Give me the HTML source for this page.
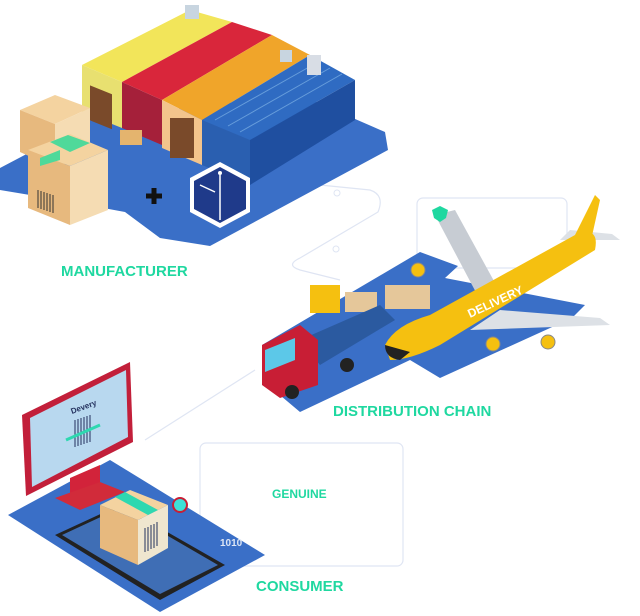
<!DOCTYPE html>
<html><head><meta charset="utf-8"><style>
html,body{margin:0;padding:0;background:#fff;}
svg{display:block;}
text{font-family:"Liberation Sans",sans-serif;font-weight:bold;}
</style></head><body>
<svg width="640" height="616" viewBox="0 0 640 616" xmlns="http://www.w3.org/2000/svg">
<!-- connector lines -->
<g fill="none" stroke="#dfe5f3" stroke-width="1.2">
<path d="M320 185 L370 190 Q385 195 378 212 L300 258 Q285 265 300 270 L340 280"/>
<path d="M255 370 L145 440"/>
<rect x="200" y="443" width="203" height="123" rx="6"/>
<rect x="417" y="198" width="150" height="70" rx="6"/>
</g>
<circle cx="337" cy="193" r="3" fill="#fff" stroke="#dfe5f3"/>
<circle cx="336" cy="249" r="3" fill="#fff" stroke="#dfe5f3"/>

<!-- manufacturer platform -->
<path d="M0 168 L95 118 L300 95 L385 132 L388 150 L210 246 L160 238 L125 212 L60 200 L0 190 Z" fill="#3a6fc7"/>
<!-- yellow building -->
<path d="M82 65 L190 10 L232 22 L122 82 Z" fill="#f2e55a"/>
<path d="M82 65 L122 82 L122 128 L82 112 Z" fill="#e8e070"/>
<rect x="90" y="85" width="22" height="35" fill="#7a4a2a" transform="skewY(22) translate(0,-36)"/>
<!-- red -->
<path d="M122 82 L232 22 L272 35 L162 100 Z" fill="#d9263b"/>
<path d="M122 82 L162 100 L162 145 L122 128 Z" fill="#a5203a"/>
<!-- orange -->
<path d="M162 100 L272 35 L310 55 L202 120 Z" fill="#f0a52a"/>
<path d="M162 100 L202 120 L202 165 L162 148 Z" fill="#f3c48c"/>
<rect x="170" y="118" width="24" height="40" fill="#7a4a2a"/>
<!-- blue -->
<path d="M202 120 L310 55 L355 80 L250 140 Z" fill="#2f6bc2"/>
<path d="M250 140 L355 80 L355 120 L250 185 Z" fill="#1f4fa0"/>
<path d="M202 120 L250 140 L250 185 L202 165 Z" fill="#2a5fb0"/>
<g stroke="#7fb3e6" stroke-width="1" opacity=".7">
<path d="M215 120 L318 62 M228 126 L330 68 M240 132 L342 74"/>
</g>
<rect x="185" y="5" width="14" height="14" fill="#c8d5e0"/>
<rect x="280" y="50" width="12" height="12" fill="#c8d5e0"/>
<rect x="307" y="55" width="14" height="20" fill="#d8dde5"/>
<!-- boxes -->
<path d="M20 110 L55 95 L90 108 L55 124 Z" fill="#f4d3a0"/>
<path d="M20 110 L55 124 L55 168 L20 152 Z" fill="#e7b97e"/>
<path d="M55 124 L90 108 L90 152 L55 168 Z" fill="#f5dcb3"/>
<path d="M28 150 L70 134 L108 150 L70 166 Z" fill="#f4d3a0"/>
<path d="M28 150 L70 166 L70 225 L28 208 Z" fill="#e7b97e"/>
<path d="M70 166 L108 150 L108 210 L70 225 Z" fill="#f5dcb3"/>
<path d="M50 142 L68 135 L90 143 L70 152 Z M40 158 L60 150 L60 160 L40 166 Z" fill="#4fd99a"/>
<g stroke="#333" stroke-width="1"><path d="M38 190 V208 M41 191 V209 M44 192 V210 M47 193 V211 M50 194 V212 M53 195 V213"/></g>
<rect x="120" y="130" width="22" height="15" fill="#e4b46e"/>
<!-- plus -->
<path d="M146 196 H162 M154 188 V204" stroke="#111" stroke-width="5"/>
<!-- hex logo -->
<polygon points="220,162 250,178 250,212 220,228 190,212 190,178" fill="#fff"/>
<polygon points="220,167 246,181 246,209 220,223 194,209 194,181" fill="#1f3a8a"/>
<path d="M220 175 V220 M200 185 L215 192" stroke="#fff" stroke-width="1.5" fill="none"/>
<circle cx="220" cy="173" r="2" fill="#fff"/>

<text x="61" y="276" font-size="15" fill="#1fd8a0">MANUFACTURER</text>

<!-- distribution platform -->
<path d="M262 345 L420 252 L458 266 L445 278 L585 305 L572 318 L440 378 L410 360 L300 412 L262 380 Z" fill="#3a6fc7"/>
<!-- plane wings -->
<path d="M435 215 L480 300 L500 292 L455 210 Z" fill="#c7ccd3"/>
<path d="M470 330 L610 325 L600 318 L500 310 Z" fill="#dde1e6"/>
<path d="M560 240 L620 240 L612 234 L570 230 Z" fill="#dde1e6"/>
<!-- fuselage -->
<path d="M385 345 Q395 325 430 315 L575 235 Q600 225 595 250 L440 345 Q410 360 390 360 Z" fill="#f5c010"/>
<path d="M575 235 L595 195 L600 200 L590 245 Z" fill="#f5c010"/>
<path d="M385 345 Q385 358 400 360 L410 352 Z" fill="#222"/>
<text x="470" y="318" font-size="12" fill="#fff" transform="rotate(-25 470 318)">DELIVERY</text>
<circle cx="493" cy="344" r="7" fill="#f5c010" stroke="#888"/>
<circle cx="548" cy="342" r="7" fill="#f5c010" stroke="#888"/>
<circle cx="418" cy="270" r="7" fill="#f5c010" stroke="#888"/>
<!-- forklift & pallets -->
<rect x="310" y="285" width="30" height="28" fill="#f5c010"/>
<rect x="345" y="292" width="32" height="20" fill="#e5c79a"/>
<rect x="385" y="285" width="45" height="24" fill="#e5c79a"/>
<!-- truck -->
<path d="M300 340 L380 305 L395 320 L320 365 Z" fill="#2b5aa0"/>
<path d="M262 345 L300 325 L318 340 L318 385 L280 398 L262 385 Z" fill="#c81e35"/>
<path d="M265 350 L295 338 L295 360 L265 372 Z" fill="#5cc8e8"/>
<circle cx="292" cy="392" r="7" fill="#222"/>
<circle cx="347" cy="365" r="7" fill="#222"/>
<path d="M432 210 L440 206 L448 210 L446 218 L440 222 L434 218 Z" fill="#1fd8a0"/>

<text x="333" y="416" font-size="15" fill="#1fd8a0">DISTRIBUTION CHAIN</text>

<!-- consumer platform -->
<path d="M8 515 L110 460 L265 555 L160 612 Z" fill="#3a6fc7"/>
<!-- monitor -->
<path d="M22 415 L130 362 L133 442 L26 496 Z" fill="#c21f3a"/>
<path d="M30 418 L126 370 L128 437 L32 487 Z" fill="#b8d8ef"/>
<path d="M70 478 L100 465 L100 490 L70 500 Z" fill="#d2233a"/>
<path d="M55 498 L100 482 L125 492 L80 510 Z" fill="#d12b3a"/>
<g stroke="#23315e" stroke-width="1"><path d="M75 420 V447 M78 419 V446 M81 418 V445 M84 417 V444 M87 416 V443 M90 415 V442"/></g>
<path d="M66 440 L100 425" stroke="#2ed8b0" stroke-width="3"/>
<text x="72" y="414" font-size="8" fill="#23315e" transform="rotate(-20 72 414)">Devery</text>
<!-- tablet -->
<path d="M55 535 L120 505 L225 565 L160 600 Z" fill="#222"/>
<path d="M62 535 L120 508 L218 565 L160 594 Z" fill="#3f6eb5"/>
<!-- box -->
<path d="M100 505 L130 490 L168 505 L138 520 Z" fill="#f4d3a0"/>
<path d="M100 505 L138 520 L138 565 L100 548 Z" fill="#e7b97e"/>
<path d="M138 520 L168 505 L168 548 L138 565 Z" fill="#efe6cf"/>
<path d="M115 497 L125 492 L158 510 L148 515 Z" fill="#2ed8b0"/>
<g stroke="#23315e" stroke-width="1"><path d="M145 528 V552 M148 527 V551 M151 525 V549 M154 524 V548 M157 522 V546"/></g>
<circle cx="180" cy="505" r="7" fill="#3de0d8" stroke="#c81e35" stroke-width="2"/>
<text x="220" y="546" font-size="10" fill="#dde6f5">1010</text>

<text x="272" y="498" font-size="12" fill="#1fd8a0">GENUINE</text>
<text x="256" y="591" font-size="15" fill="#1fd8a0">CONSUMER</text>
</svg>
</body></html>
